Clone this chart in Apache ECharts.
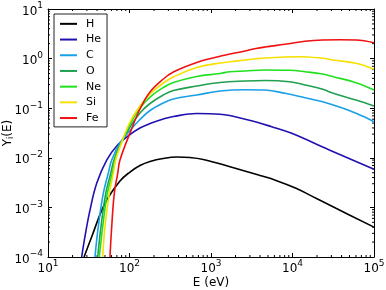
<!DOCTYPE html>
<html><head><meta charset="utf-8">
<script src="https://cdn.jsdelivr.net/npm/echarts@6/dist/echarts.min.js"></script>
<style>html,body{margin:0;padding:0;background:#fff}#c{width:386px;height:290px}</style>
</head><body><div id="c"></div>
<script>
// energies (eV) and yields
const H_E  = [27.7, 34.4, 50, 76.4, 101.4, 134.5, 178.5, 257.6, 379, 552, 804, 1711, 3993, 6275, 11040, 19430, 34180, 100000];
const H_Y  = [1e-4, 2.57e-4, 1.21e-3, 3.405e-3, 5.17e-3, 6.995e-3, 8.42e-3, 9.68e-3, 1.038e-2, 1.014e-2, 9.24e-3, 6.6e-3, 4.4e-3, 3.5e-3, 2.43e-3, 1.53e-3, 9.6e-4, 4.0e-4];
const He_E = [25.9, 28.4, 32.8, 39.6, 52.5, 72.3, 101.4, 134.5, 178.5, 260, 345, 668, 1290, 2869, 5557, 9777, 28290, 100000];
const He_Y = [1e-4, 2.57e-4, 8.9e-4, 3.06e-3, 9.0e-3, 0.01854, 0.0295, 0.0399, 0.0491, 0.0606, 0.068, 0.0781, 0.0753, 0.0578, 0.0424, 0.0312, 0.0144, 0.00586];
const C_E  = [37.7, 41.4, 47.7, 54.9, 60.5, 76.4, 101.4, 134.5, 178.5, 260, 345, 668, 1290, 2614, 4599, 8091, 14240, 23480, 31670, 60130, 100000];
const C_Y  = [1e-4, 4.08e-4, 1.92e-3, 4.87e-3, 9.0e-3, 0.0199, 0.0355, 0.0592, 0.0899, 0.1273, 0.1533, 0.1845, 0.222, 0.236, 0.232, 0.200, 0.163, 0.135, 0.116, 0.0789, 0.0534];
const O_E  = [40.7, 44.7, 51.1, 58.8, 64.5, 76.4, 101.4, 134.5, 178.5, 260, 345, 668, 1290, 2614, 4599, 9135, 14240, 23480, 31670, 60130, 100000];
const O_Y  = [1e-4, 4.08e-4, 1.92e-3, 4.87e-3, 9.0e-3, 0.0181, 0.0418, 0.080, 0.1244, 0.1845, 0.2275, 0.280, 0.3297, 0.353, 0.362, 0.342, 0.294, 0.240, 0.200, 0.146, 0.111];
const Ne_E = [42.6, 46.9, 53.4, 61.5, 66.4, 76.4, 101.4, 134.5, 178.5, 260, 345, 668, 1290, 1711, 2614, 4599, 9135, 14240, 23480, 31670, 60130, 100000];
const Ne_Y = [1e-4, 4.08e-4, 1.92e-3, 4.87e-3, 9.0e-3, 0.0173, 0.048, 0.101, 0.168, 0.2614, 0.3297, 0.4356, 0.5007, 0.544, 0.562, 0.589, 0.581, 0.544, 0.489, 0.432, 0.327, 0.233];
const Si_E = [46.9, 50, 56.5, 63.3, 67.7, 76.4, 101.4, 134.5, 178.5, 260, 345, 668, 1290, 1711, 2614, 3566, 4599, 8091, 12360, 23480, 31670, 60130, 100000];
const Si_Y = [1e-4, 4.08e-4, 1.92e-3, 4.87e-3, 9.0e-3, 0.0165, 0.0527, 0.111, 0.1933, 0.322, 0.4256, 0.6615, 0.815, 0.862, 0.937, 0.991, 1.028, 1.077, 1.092, 1.014, 0.937, 0.804, 0.608];
const Fe_E = [57.6, 60.5, 65.1, 71.7, 76.4, 101.4, 134.5, 178.5, 260, 345, 668, 1120, 1711, 2614, 3566, 4599, 8091, 14240, 23480, 38260, 60130, 100000];
const Fe_Y = [1e-4, 4.08e-4, 1.92e-3, 4.87e-3, 9.0e-3, 0.0316, 0.0964, 0.212, 0.388, 0.537, 0.834, 1.052, 1.238, 1.423, 1.598, 1.712, 1.942, 2.234, 2.371, 2.40, 2.371, 2.092];

const NAMES  = ['H', 'He', 'C', 'O', 'Ne', 'Si', 'Fe'];
const COLORS = ['#000000', '#2010b0', '#18a0e8', '#20a050', '#20e020', '#f5e000', '#f01010'];
const SETS = [[H_E,H_Y],[He_E,He_Y],[C_E,C_Y],[O_E,O_Y],[Ne_E,Ne_Y],[Si_E,Si_Y],[Fe_E,Fe_Y]];

const X_MIN = 10, X_MAX = 1e5, Y_MIN = 1e-4, Y_MAX = 10;
const X_MINOR = [], Y_MINOR = [];
for (let d = 10; d < X_MAX; d *= 10) for (let k = 2; k <= 9; k++) X_MINOR.push(d * k);
for (let e = -4; e < 1; e++) for (let k = 2; k <= 9; k++) Y_MINOR.push(Math.pow(10, e) * k);

const FONT = 'DejaVu Sans';
function sup(v) {
  const e = Math.round(Math.log10(v));
  return '{b|10}{s|' + (e < 0 ? '\u2212' + (-e) : e) + '}';
}
const rich = {
  b: {fontSize: 12, fontFamily: FONT, color: '#000', padding: [5, 0, 0, 0]},
  s: {fontSize: 9, fontFamily: FONT, color: '#000', padding: [0, 0, 6, 0]}
};
const tick = {show: true, inside: true, length: 4, lineStyle: {color: '#000', width: 1}};
const aline = {show: true, lineStyle: {color: '#000', width: 1}};

const series = SETS.map((s, i) => ({
  name: NAMES[i], type: 'line', xAxisIndex: 0, yAxisIndex: 0,
  data: s[0].map((e, j) => [e, s[1][j]]),
  showSymbol: false, smooth: 0.4, clip: true,
  lineStyle: {color: COLORS[i], width: 1.6}, itemStyle: {color: COLORS[i]}
}));
series.push({
  type: 'custom', xAxisIndex: 0, yAxisIndex: 0, silent: true, clip: false,
  data: X_MINOR.map(v => [v, Y_MIN]),
  renderItem: (p, api) => {
    const v = api.value(0);
    const b = api.coord([v, Y_MIN]), t = api.coord([v, Y_MAX]);
    const st = {stroke: '#000', lineWidth: 1};
    return {type: 'group', children: [
      {type: 'line', shape: {x1: b[0], y1: b[1], x2: b[0], y2: b[1] - 2}, style: st},
      {type: 'line', shape: {x1: t[0], y1: t[1], x2: t[0], y2: t[1] + 2}, style: st}]};
  }
});
series.push({
  type: 'custom', xAxisIndex: 0, yAxisIndex: 0, silent: true, clip: false,
  data: Y_MINOR.map(v => [X_MIN, v]),
  renderItem: (p, api) => {
    const v = api.value(1);
    const l = api.coord([X_MIN, v]), r = api.coord([X_MAX, v]);
    const st = {stroke: '#000', lineWidth: 1};
    return {type: 'group', children: [
      {type: 'line', shape: {x1: l[0], y1: l[1], x2: l[0] + 2, y2: l[1]}, style: st},
      {type: 'line', shape: {x1: r[0], y1: r[1], x2: r[0] - 2, y2: r[1]}, style: st}]};
  }
});

const chart = echarts.init(document.getElementById('c'), null, {renderer: 'canvas'});
chart.setOption({
  animation: false,
  backgroundColor: '#fff',
  grid: {left: 48, top: 9, width: 326, height: 248, containLabel: false, outerBoundsMode: 'none'},
  legend: {
    data: NAMES, orient: 'vertical', left: 54, top: 14,
    icon: 'rect', itemWidth: 17, itemHeight: 2, itemGap: 0,
    padding: [2, 6, 1, 6], borderColor: '#222', borderWidth: 1, backgroundColor: '#fff',
    textStyle: {fontSize: 11, fontFamily: FONT, color: '#000', lineHeight: 15.7, padding: [0, 0, 0, 4]}
  },
  xAxis: [
    {type: 'log', logBase: 10, min: X_MIN, max: X_MAX, position: 'bottom',
     axisLine: aline, axisTick: tick, splitLine: {show: false},
     axisLabel: {formatter: sup, rich: rich, margin: 1},
     name: 'E (eV)', nameLocation: 'middle', nameGap: 20, nameMoveOverlap: false,
     nameTextStyle: {fontSize: 12, fontFamily: FONT, color: '#000'}},
    {type: 'log', logBase: 10, min: X_MIN, max: X_MAX, position: 'top',
     axisLine: aline, axisTick: tick, splitLine: {show: false}, axisLabel: {show: false}}
  ],
  yAxis: [
    {type: 'log', logBase: 10, min: Y_MIN, max: Y_MAX, position: 'left',
     axisLine: aline, axisTick: tick, splitLine: {show: false},
     axisLabel: {formatter: sup, rich: rich, margin: 5},
     name: '{a|Y}{i|i}{a|(E)}', nameLocation: 'middle', nameGap: 33, nameRotate: 90,
     nameMoveOverlap: false,
     nameTextStyle: {rich: {
       a: {fontSize: 12, fontFamily: FONT, color: '#000'},
       i: {fontSize: 8, fontFamily: FONT, color: '#000', padding: [6, 0, 0, 0]}}}},
    {type: 'log', logBase: 10, min: Y_MIN, max: Y_MAX, position: 'right',
     axisLine: aline, axisTick: tick, splitLine: {show: false}, axisLabel: {show: false}}
  ],
  series: series
});
</script></body></html>
